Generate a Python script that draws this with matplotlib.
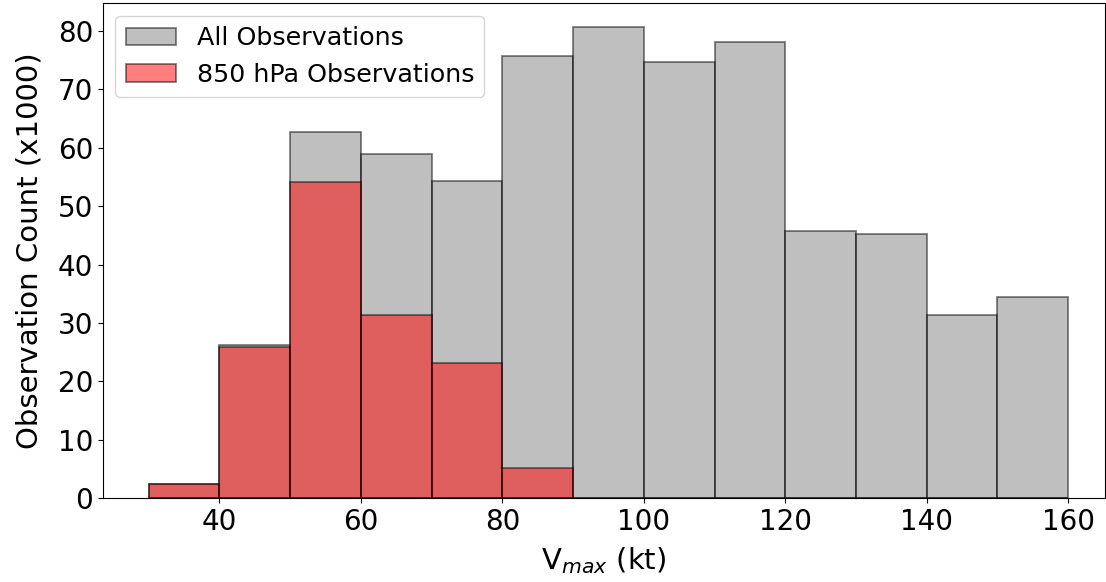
import matplotlib.pyplot as plt
import numpy as np
from matplotlib.ticker import MultipleLocator

# Vmax bins (kt) and observation counts (thousands)
bin_edges = np.arange(30, 170, 10)
all_counts = [2.4, 26.3, 62.8, 58.9, 54.4, 75.7, 80.7, 74.7, 78.1, 45.7, 45.3, 31.4, 34.5]
p850_counts = [2.4, 25.9, 54.2, 31.4, 23.2, 5.15, 0, 0, 0, 0, 0, 0, 0]

fig, ax = plt.subplots(figsize=(11.06, 5.82), dpi=100)
fig.subplots_adjust(left=0.0929, right=0.999, top=0.994, bottom=0.1443)

ax.bar(bin_edges[:-1], all_counts, width=10, align="edge",
       color="gray", edgecolor="black", alpha=0.5, linewidth=1.3,
       label="All Observations")
ax.bar(bin_edges[:-1], p850_counts, width=10, align="edge",
       color="red", edgecolor="black", alpha=0.5, linewidth=1.3,
       label="850 hPa Observations")

ax.set_xlim(23.5, 165.2)
ax.yaxis.set_major_locator(MultipleLocator(10))
ax.tick_params(labelsize=20)
ax.set_xlabel(r"V$_{max}$ (kt)", fontsize=21, labelpad=7)
ax.set_ylabel("Observation Count (x1000)", fontsize=21, labelpad=10)
ax.legend(loc="upper left", fontsize=18.3)

plt.savefig("out.png")
